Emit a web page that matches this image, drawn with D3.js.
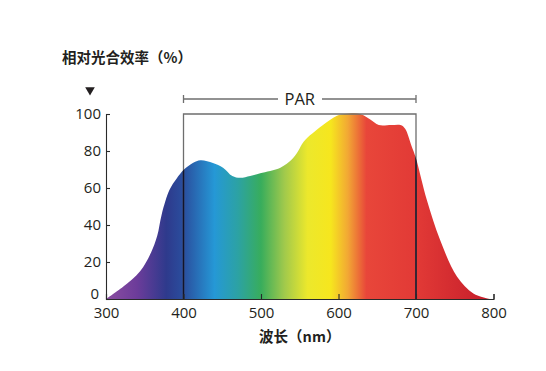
<!DOCTYPE html>
<html><head><meta charset="utf-8">
<script src="https://cdn.jsdelivr.net/npm/d3@7"></script>
<style>
body{margin:0;background:#fff;}
svg{display:block;}
text{fill:#231f20;}
.num{font-family:"Open Sans","Noto Sans",sans-serif;font-size:15px;}
.cjk{font-family:"Noto Sans CJK SC",sans-serif;font-weight:bold;font-size:14.5px;}
</style></head>
<body>
<svg id="c" width="546" height="371"></svg>
<script>
const wavelengths = [300,322,344,358,366,372,382,391,400,412,422,438,451,463,473,486,499,525,540,548,555,580,598,608,628,641,652,668,680,686,694,700,714,731,753,774,796];
const efficiency  = [0,6.6,15,25,34,46,59,65,69.7,73.5,75,73.5,71,66.5,65.5,66.5,68,71,75.5,80,85,94,99,100,100,97,94,94,94,92,83,76,53.5,32,12,3,0];
const xTicks = [300,400,500,600,700,800];
const yTicks = [0,20,40,60,80,100];
const parRange = [400,700];
const gradStops = [[300,"#8c4ea2"],[340,"#6c3c9a"],[378,"#2e3a8c"],[400,"#2a4e9e"],[440,"#2598d6"],[470,"#2ca2a4"],[500,"#38ad5c"],[530,"#a0c94c"],[560,"#ece82c"],[590,"#f6e61e"],[612,"#f2a834"],[636,"#e8463a"],[700,"#e23a36"],[800,"#c41c2a"]];

const svg = d3.select("#c");
const x = d3.scaleLinear().domain([300,800]).range([106,493.5]);
const y = d3.scaleLinear().domain([0,100]).range([299,114]);

const defs = svg.append("defs");
const grad = defs.append("linearGradient").attr("id","spec").attr("gradientUnits","userSpaceOnUse")
  .attr("x1",x(300)).attr("x2",x(800)).attr("y1",0).attr("y2",0);
gradStops.forEach(([w,c])=>grad.append("stop").attr("offset",(w-300)/500).attr("stop-color",c));

const pts = wavelengths.map((w,i)=>[w,efficiency[i]]);
const area = d3.area().x(d=>x(d[0])).y0(y(0)).y1(d=>y(Math.min(100,Math.max(0,d[1])))).curve(d3.curveCatmullRom.alpha(0.5));
defs.append("clipPath").attr("id","ac").append("path").attr("d",area(pts));
svg.append("path").attr("d",area(pts)).attr("fill","url(#spec)");

// PAR box
const box = svg.append("g").attr("fill","none").attr("stroke","#6e6e6e").attr("stroke-width",1.3);
box.append("path").attr("d",`M${x(parRange[0])},${y(0)}V${y(100)}H${x(parRange[1])}V${y(0)}`);
const boxDark = svg.append("g").attr("clip-path","url(#ac)").attr("stroke","#141428").attr("stroke-width",1.5);
parRange.forEach(w=>boxDark.append("line").attr("x1",x(w)).attr("x2",x(w)).attr("y1",y(0)).attr("y2",y(100)));

// PAR bracket
const by = 99;
const br = svg.append("g").attr("stroke","#6e6e6e").attr("stroke-width",1.3);
br.append("line").attr("x1",x(400)).attr("x2",278).attr("y1",by).attr("y2",by);
br.append("line").attr("x1",322).attr("x2",x(700)).attr("y1",by).attr("y2",by);
br.append("line").attr("x1",x(400)).attr("x2",x(400)).attr("y1",by-4).attr("y2",by+4);
br.append("line").attr("x1",x(700)).attr("x2",x(700)).attr("y1",by-4).attr("y2",by+4);
svg.append("text").attr("class","num").attr("x",(x(400)+x(700))/2).attr("y",by).attr("dy","0.36em")
  .attr("text-anchor","middle").style("font-size","16.5px").text("PAR");

// axes
const xAxis = svg.append("g").attr("transform",`translate(0,${y(0)})`)
  .call(d3.axisBottom(x).tickValues(xTicks).tickSizeInner(-5).tickSizeOuter(-5).tickPadding(5));
const yAxis = svg.append("g").attr("transform",`translate(${x(300)},0)`)
  .call(d3.axisLeft(y).tickValues(yTicks).tickSizeInner(-4).tickSizeOuter(-4).tickPadding(6));
[xAxis,yAxis].forEach(a=>{
  a.attr("font-family",null).attr("font-size",null);
  a.selectAll("path").attr("stroke","#2a2a2a").attr("stroke-width",1.1);
  a.selectAll("line").attr("stroke","#2a2a2a").attr("stroke-width",1.1);
  a.selectAll("text").attr("class","num").attr("fill","#231f20");
});
xAxis.selectAll("text").attr("y",5).attr("dy","0.95em");
yAxis.selectAll("text").attr("x",-5).attr("dy","0.3em");
yAxis.selectAll(".tick").filter(d=>d===0).select("text").attr("y",-5).attr("x",-7);

// titles
svg.append("text").attr("class","cjk").attr("x",62).attr("y",58).attr("dy","0.36em").text("相对光合效率（%）");
svg.append("text").attr("class","cjk").attr("x",x(550)).attr("y",337).attr("dy","0.36em").attr("text-anchor","middle").text("波长（nm）");
svg.append("path").attr("d",d3.symbol(d3.symbolTriangle,40)()).attr("transform","translate(90,90) rotate(180)").attr("fill","#231f20");
</script>
</body></html>
